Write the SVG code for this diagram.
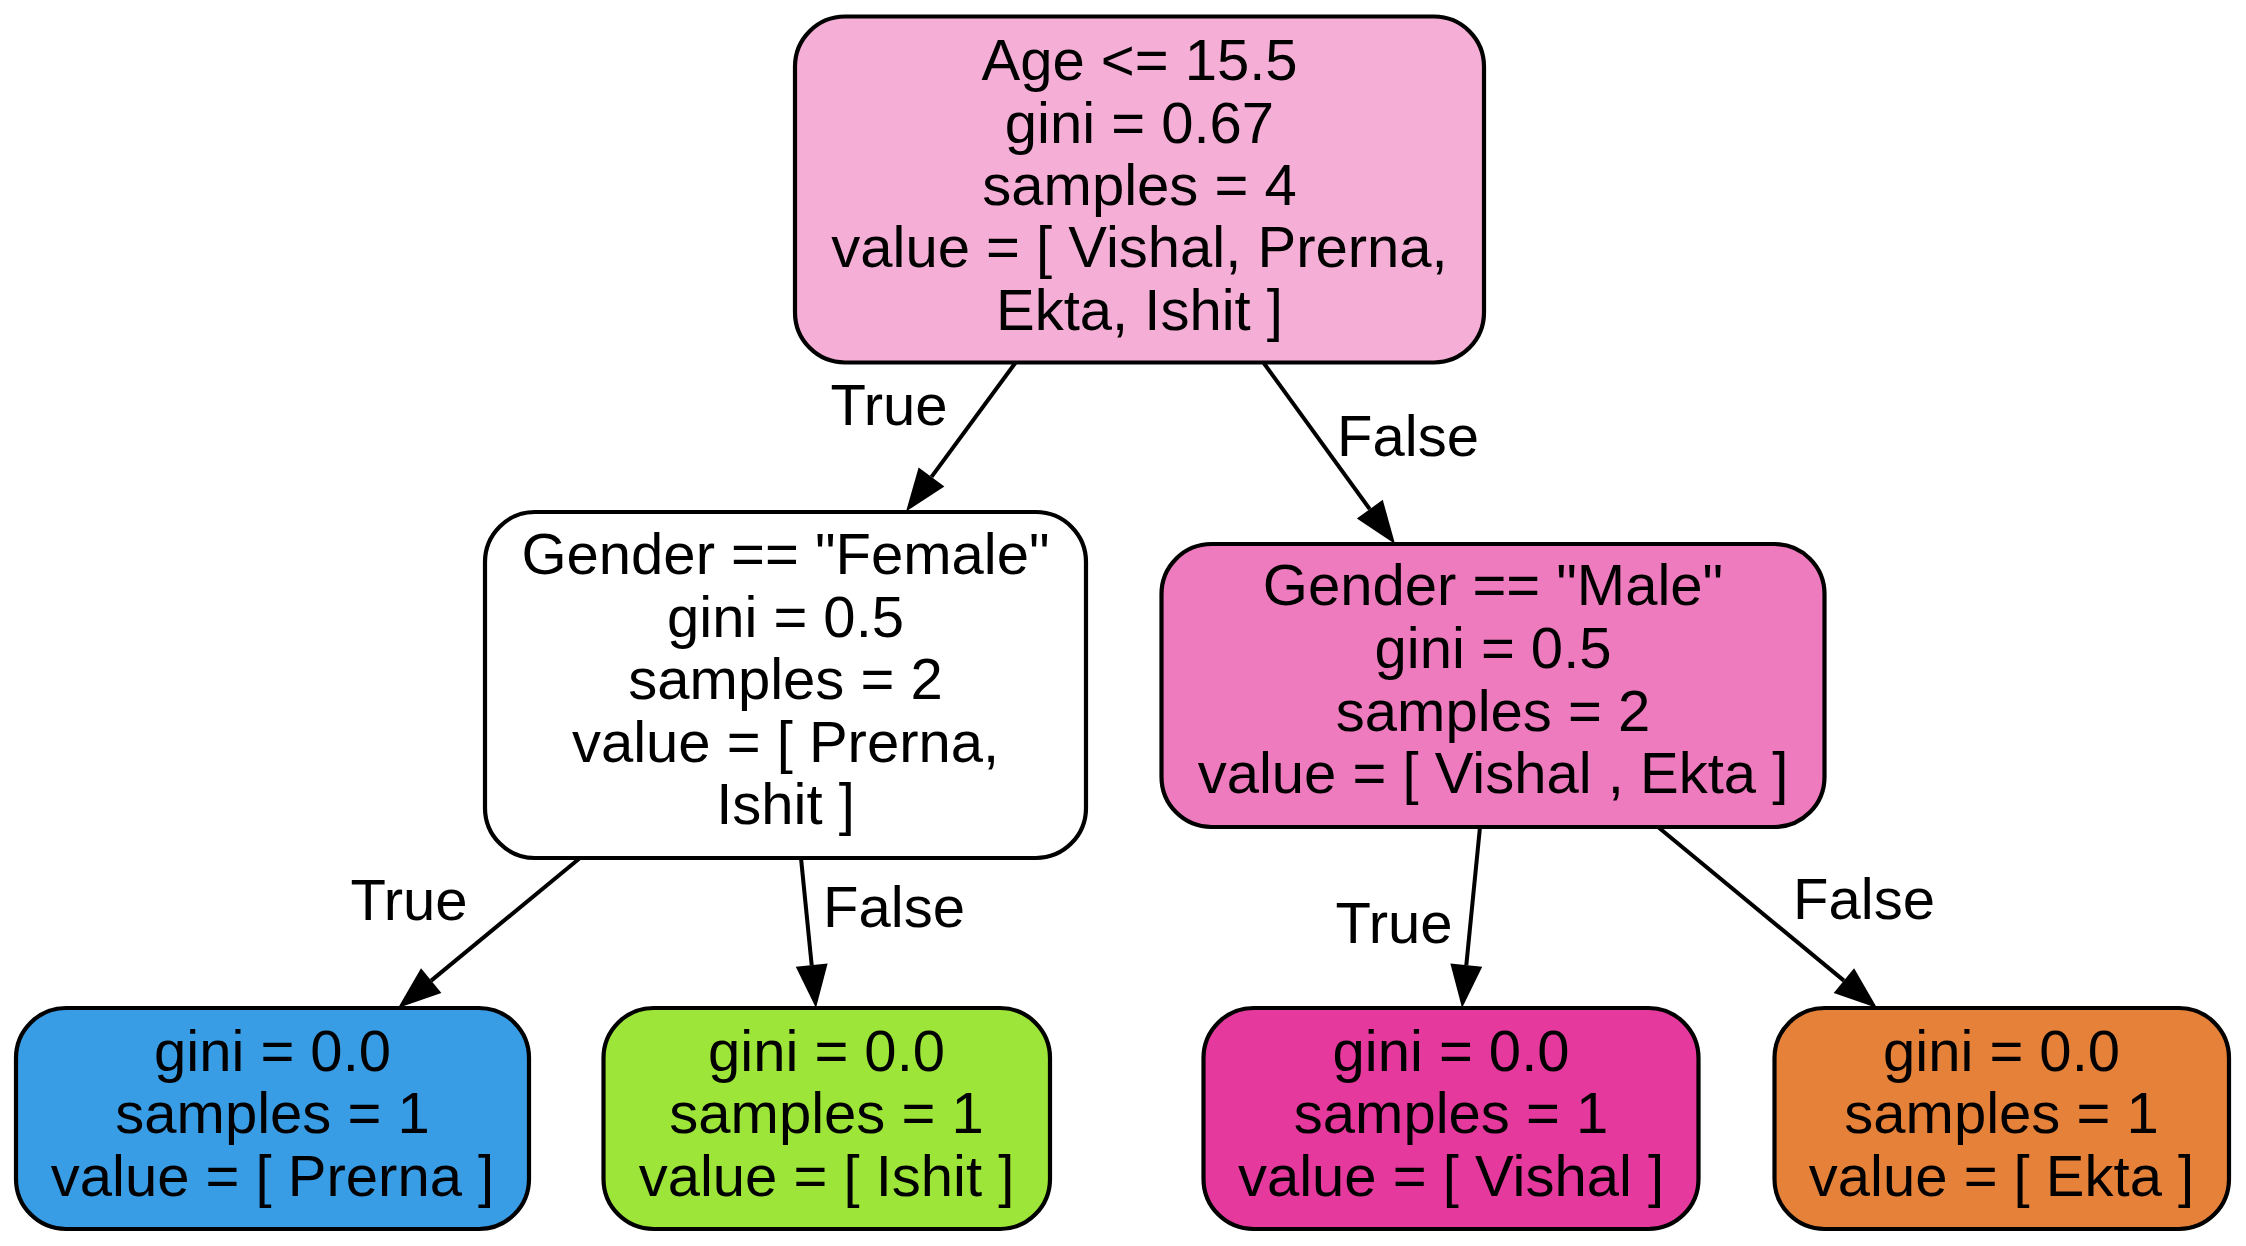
<svg xmlns="http://www.w3.org/2000/svg" width="2246" height="1246" viewBox="0 0 2246 1246">
<style>
.node rect{stroke:#000;stroke-width:4.2}
text{font-family:"Liberation Sans",Arial,Helvetica,sans-serif;font-size:58px;fill:#000;text-anchor:middle}
.edge{stroke:#000;stroke-width:4;fill:none}
</style>
<defs>
<marker id="arr" markerUnits="userSpaceOnUse" viewBox="-2 -18 48 36" markerWidth="48" markerHeight="36" refX="0" refY="0" orient="auto">
<path d="M0,-16 L43,0 L0,16 Z" fill="#000"/>
</marker>
</defs>
<rect width="2246" height="1246" fill="#fff"/>
<g id="connectors">
<path class="edge" d="M1016,362 L931.5,476.9" marker-end="url(#arr)"/>
<path class="edge" d="M1263,362 L1369.8,509.2" marker-end="url(#arr)"/>
<path class="edge" d="M580,858 L431.2,980.6" marker-end="url(#arr)"/>
<path class="edge" d="M801,858 L811.7,965.2" marker-end="url(#arr)"/>
<path class="edge" d="M1480,827 L1466.3,965.2" marker-end="url(#arr)"/>
<path class="edge" d="M1658,827 L1843.9,980.6" marker-end="url(#arr)"/>
<text x="889" y="425">True</text>
<text x="1408" y="456">False</text>
<text x="409" y="920">True</text>
<text x="894" y="927">False</text>
<text x="1394" y="943">True</text>
<text x="1864" y="919">False</text>
</g>
<g id="node0" class="node">
<rect x="795" y="16.5" width="689" height="346" rx="50" ry="50" fill="#f5afd7"/>
<text x="1139.5" y="80">Age &lt;= 15.5</text>
<text x="1139.5" y="142.5">gini = 0.67</text>
<text x="1139.5" y="205">samples = 4</text>
<text x="1139.5" y="267">value = [ Vishal, Prerna,</text>
<text x="1139.5" y="330">Ekta, Ishit ]</text>
</g>
<g id="node1" class="node">
<rect x="485" y="512" width="601" height="346" rx="50" ry="50" fill="#ffffff"/>
<text x="785.5" y="574">Gender == "Female"</text>
<text x="785.5" y="636.5">gini = 0.5</text>
<text x="785.5" y="699">samples = 2</text>
<text x="785.5" y="761.5">value = [ Prerna,</text>
<text x="785.5" y="824">Ishit ]</text>
</g>
<g id="node4" class="node">
<rect x="1161.5" y="544" width="663" height="283" rx="50" ry="50" fill="#ee7bbe"/>
<text x="1493" y="605">Gender == "Male"</text>
<text x="1493" y="668">gini = 0.5</text>
<text x="1493" y="731">samples = 2</text>
<text x="1493" y="793">value = [ Vishal , Ekta ]</text>
</g>
<g id="node2" class="node">
<rect x="16" y="1008" width="513" height="221" rx="50" ry="50" fill="#399de5"/>
<text x="272.5" y="1071">gini = 0.0</text>
<text x="272.5" y="1133">samples = 1</text>
<text x="272.5" y="1196">value = [ Prerna ]</text>
</g>
<g id="node3" class="node">
<rect x="603.5" y="1008" width="446.5" height="221" rx="50" ry="50" fill="#9de539"/>
<text x="826.5" y="1071">gini = 0.0</text>
<text x="826.5" y="1133">samples = 1</text>
<text x="826.5" y="1196">value = [ Ishit ]</text>
</g>
<g id="node5" class="node">
<rect x="1203.5" y="1008" width="495" height="221" rx="50" ry="50" fill="#e5399e"/>
<text x="1451" y="1071">gini = 0.0</text>
<text x="1451" y="1133">samples = 1</text>
<text x="1451" y="1196">value = [ Vishal ]</text>
</g>
<g id="node6" class="node">
<rect x="1774.5" y="1008" width="454.5" height="221" rx="50" ry="50" fill="#e58139"/>
<text x="2001.5" y="1071">gini = 0.0</text>
<text x="2001.5" y="1133">samples = 1</text>
<text x="2001.5" y="1196">value = [ Ekta ]</text>
</g>
</svg>
